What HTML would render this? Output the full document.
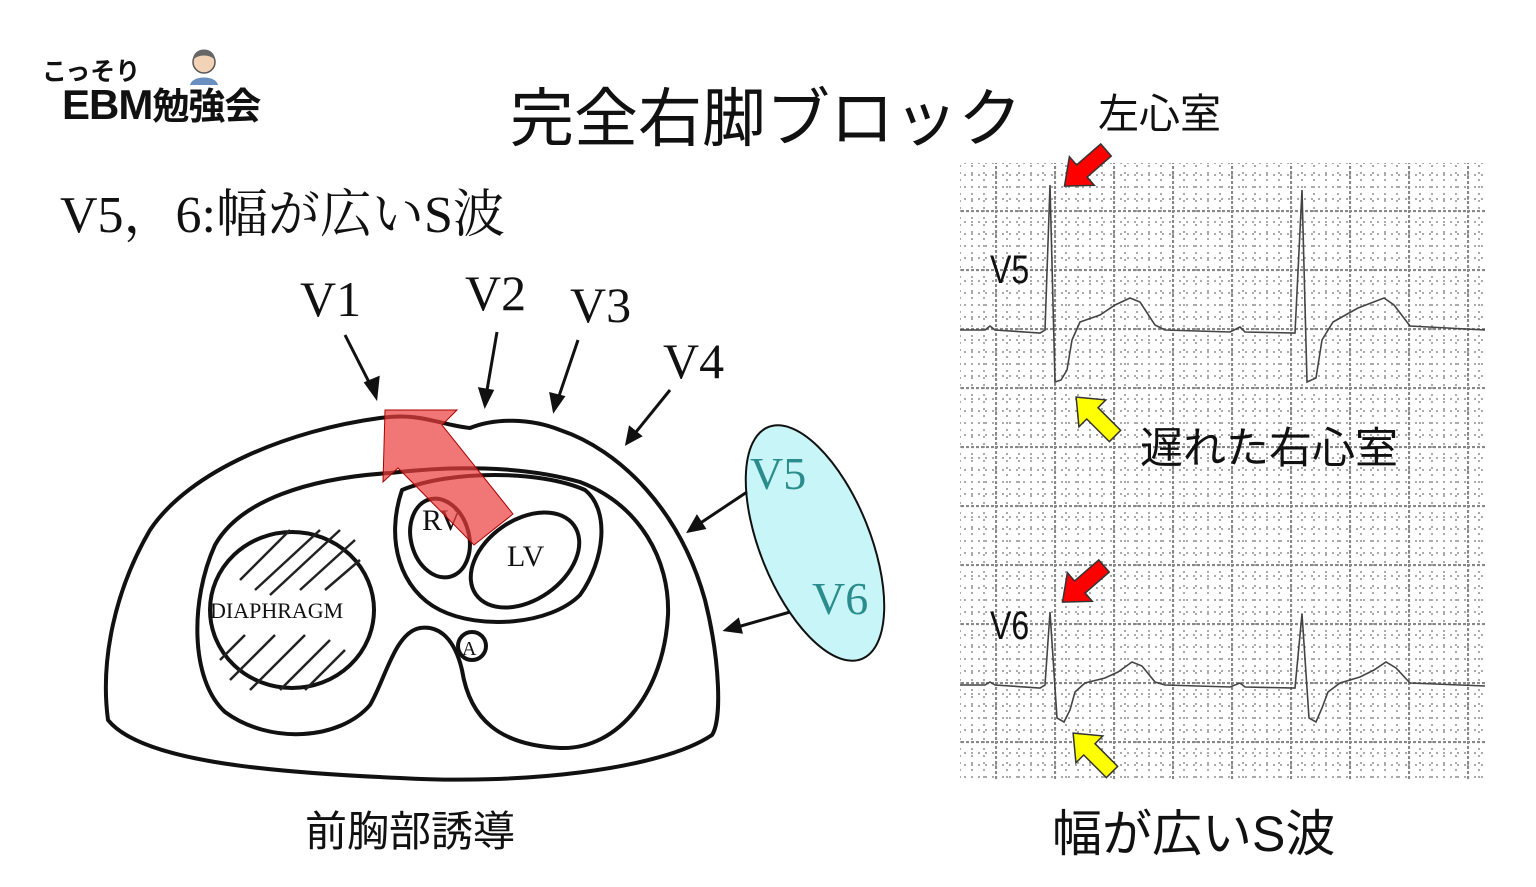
<!DOCTYPE html>
<html><head><meta charset="utf-8"><style>
html,body{margin:0;padding:0;background:#fff;}
body{width:1536px;height:887px;position:relative;overflow:hidden;font-family:"Liberation Sans","Noto Sans CJK JP",sans-serif;}
.t{position:absolute;white-space:nowrap;color:#111;}
.serif{font-family:"Liberation Serif","Noto Serif CJK SC",serif;}
</style></head><body>
<svg width="1536" height="887" style="position:absolute;left:0;top:0">
<defs>
<pattern id="g" x="995" y="210" width="59" height="59" patternUnits="userSpaceOnUse">
 <g stroke="#aaa" stroke-width="2" stroke-dasharray="2 5">
  <line x1="12" y1="0" x2="12" y2="59"/><line x1="24" y1="0" x2="24" y2="59"/><line x1="36" y1="0" x2="36" y2="59"/><line x1="48" y1="0" x2="48" y2="59"/>
  <line x1="0" y1="12" x2="59" y2="12"/><line x1="0" y1="24" x2="59" y2="24"/><line x1="0" y1="36" x2="59" y2="36"/><line x1="0" y1="48" x2="59" y2="48"/>
 </g>
 <g stroke="#888" stroke-width="2.2" stroke-dasharray="3 2">
  <line x1="1" y1="0" x2="1" y2="59"/><line x1="0" y1="1" x2="59" y2="1"/>
 </g>
</pattern>
</defs>
<rect x="960" y="163" width="526" height="618" fill="url(#g)"/>
<polyline fill="none" stroke="#444" stroke-width="1.6" points="960,330 985,330 990,326 995,330 1040,333 1045,330 1050,185 1055,382 1061,380 1067,370 1072,340 1080,322 1100,315 1115,305 1130,298 1140,302 1155,325 1165,330 1230,332 1240,327 1245,332 1295,333 1302,190 1307,382 1316,378 1322,340 1333,322 1358,308 1384,298 1394,305 1410,326 1485,330"/>
<polyline fill="none" stroke="#444" stroke-width="1.6" points="960,685 985,685 990,682 995,685 1040,688 1045,685 1050,612 1057,718 1064,722 1070,710 1075,692 1085,683 1105,678 1118,672 1132,662 1142,666 1155,682 1165,685 1230,687 1240,683 1245,687 1295,688 1302,614 1309,718 1316,722 1322,708 1328,692 1340,683 1360,677 1374,670 1386,662 1396,668 1410,683 1485,686"/>
<g stroke="#333" stroke-width="1.5">
<polygon fill="#f00" points="0,-8 32,-8 32,-19 55,0 32,19 32,8 0,8" transform="translate(1106,150) rotate(139)"/>
<polygon fill="#f00" points="0,-8 32,-8 32,-19 55,0 32,19 32,8 0,8" transform="translate(1104,566) rotate(139)"/>
<polygon fill="#ff0" points="0,-8 32,-8 32,-19 55,0 32,19 32,8 0,8" transform="translate(1115,436) rotate(-135)"/>
<polygon fill="#ff0" points="0,-8 32,-8 32,-19 55,0 32,19 32,8 0,8" transform="translate(1112,772) rotate(-135)"/>
</g>
<ellipse cx="815" cy="543" rx="55" ry="125" transform="rotate(-22 815 543)" fill="#c8f5f7" stroke="#111" stroke-width="2"/>
<g fill="none" stroke="#111" stroke-width="4" stroke-linejoin="round">
<path d="M380,418 C420,412 440,425 470,428 C495,418 530,418 560,430 C620,450 680,510 705,600 C720,660 722,720 712,735 C660,770 520,785 400,778 C260,772 140,760 108,720 C100,660 115,590 150,530 C190,470 290,430 380,418 Z"/>
<path d="M390,473 C450,466 520,465 580,482 C640,505 670,560 668,615 C664,690 620,750 560,748 C500,745 470,720 462,670 C455,640 440,625 420,628 C395,632 385,680 370,705 C340,740 270,745 225,712 C190,680 190,600 215,545 C240,500 310,478 390,473 Z"/>
<ellipse cx="292" cy="610" rx="82" ry="78"/>
<path d="M402,490 C450,470 540,470 585,490 C610,510 605,560 580,595 C550,625 480,630 440,610 C400,590 385,540 402,490 Z"/>
<ellipse cx="440" cy="538" rx="29" ry="40" transform="rotate(-15 440 538)"/>
<ellipse cx="525" cy="560" rx="60" ry="40" transform="rotate(-35 525 560)"/>
<circle cx="472" cy="646" r="14"/>
</g>
<g stroke="#222" stroke-width="2.5">
<line x1="240" y1="580" x2="290" y2="530"/><line x1="255" y1="590" x2="320" y2="530"/><line x1="270" y1="595" x2="340" y2="530"/><line x1="300" y1="590" x2="355" y2="540"/><line x1="325" y1="590" x2="360" y2="560"/>
<line x1="220" y1="660" x2="245" y2="635"/><line x1="230" y1="680" x2="275" y2="635"/><line x1="250" y1="690" x2="305" y2="635"/><line x1="280" y1="690" x2="330" y2="640"/><line x1="305" y1="690" x2="345" y2="650"/>
</g>
<text x="210" y="618" font-family="Liberation Serif,serif" font-size="22" fill="#111">DIAPHRAGM</text>
<text x="422" y="530" font-family="Liberation Serif,serif" font-size="30" fill="#111">RV</text>
<text x="507" y="566" font-family="Liberation Serif,serif" font-size="30" fill="#111">LV</text>
<text x="462" y="655" font-family="Liberation Serif,serif" font-size="20" fill="#111">A</text>
<polygon fill="rgba(235,60,60,0.7)" stroke="#a00" stroke-width="1" points="513,514 474,545 398,468 383,482 385,410 457,410 442,425"/>
<g stroke="#111" stroke-width="3" fill="#111">
<line x1="345" y1="335" x2="373" y2="390"/><polygon points="376,397 366,383 378,378"/>
<line x1="497" y1="332" x2="486" y2="396"/><polygon points="485,405 480,389 492,391"/>
<line x1="578" y1="340" x2="557" y2="402"/><polygon points="554,410 551,394 563,397"/>
<line x1="670" y1="390" x2="632" y2="437"/><polygon points="627,443 630,428 640,436"/>
<line x1="747" y1="492" x2="696" y2="526"/><polygon points="689,531 697,517 704,528"/>
<line x1="790" y1="612" x2="734" y2="628"/><polygon points="726,630 738,620 741,632"/>
</g>
<circle cx="204" cy="62" r="11" fill="#f2d3b5" stroke="#555" stroke-width="1.5"/>
<path d="M193,60 C193,46 215,46 215,60 C210,54 198,54 193,60Z" fill="#666"/>
<path d="M190,85 C192,75 216,75 218,85Z" fill="#6a8fc0"/>
</svg>
<div class="t" style="left:42px;top:52px;font-size:25px;font-weight:bold;">こっそり</div>
<div class="t" style="left:62px;top:76px;font-size:42px;font-weight:bold;letter-spacing:-1px;">EBM<span style="font-size:37px">勉強会</span></div>
<div class="t" style="left:510px;top:68px;font-size:64px;">完全右脚ブロック</div>
<div class="t" style="left:1098px;top:80px;font-size:41px;">左心室</div>
<div class="t serif" style="left:60px;top:172px;font-size:52px;">V5，6:幅が広いS波</div>
<div class="t serif" style="left:300px;top:270px;font-size:50px;">V1</div>
<div class="t serif" style="left:465px;top:264px;font-size:50px;">V2</div>
<div class="t serif" style="left:570px;top:276px;font-size:50px;">V3</div>
<div class="t serif" style="left:663px;top:332px;font-size:50px;">V4</div>
<div class="t serif" style="left:750px;top:447px;font-size:46px;color:#2a8c8c;">V5</div>
<div class="t serif" style="left:812px;top:572px;font-size:46px;color:#2a8c8c;">V6</div>
<div class="t" style="left:990px;top:248px;font-size:40px;transform:scaleX(0.8);transform-origin:left;">V5</div>
<div class="t" style="left:990px;top:604px;font-size:40px;transform:scaleX(0.8);transform-origin:left;">V6</div>
<div class="t" style="left:1140px;top:414px;font-size:43px;">遅れた右心室</div>
<div class="t" style="left:305px;top:798px;font-size:42px;">前胸部誘導</div>
<div class="t" style="left:1052px;top:794px;font-size:50px;">幅が広いS波</div>
</body></html>
